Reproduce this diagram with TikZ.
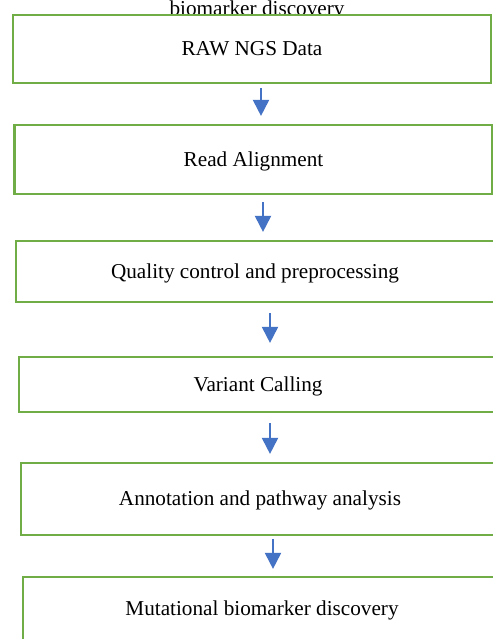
\documentclass[tikz,border=0pt]{standalone}
\usepackage{fontspec}
\setmainfont{Liberation Serif}
\usetikzlibrary{arrows.meta}

\definecolor{stepgreen}{HTML}{70AD47}
\definecolor{flowblue}{HTML}{4472C4}

\tikzset{
  stagebox/.style={draw=stepgreen, line width=1.1pt, fill=white, inner sep=0pt,
    minimum width=239pt, text depth=0.5pt, font=\fontsize{10.6}{12}\selectfont},
  flow/.style={flowblue, line width=1pt, -{Triangle[width=8pt,length=8pt]}}
}

\begin{document}
\begin{tikzpicture}[x=0.5pt, y=-0.5pt]

\clip (0,0) rectangle (493,639);
\fill[white] (0,0) rectangle (493,639);

\node (cut) at (257, 15.5) [anchor=base, font=\fontsize{10.6}{12}\selectfont] {biomarker discovery};

\node (raw) at (252, 49) [stagebox, minimum height=34pt] {RAW NGS Data};
\node (align) at (253.5, 159.5) [stagebox, minimum height=34.5pt] {Read Alignment};
\node (qc) at (255, 271.5) [stagebox, minimum height=30.5pt] {Quality control and preprocessing};
\node (calling) at (258, 384.5) [stagebox, minimum height=27.5pt] {Variant Calling};
\node (annot) at (260, 499) [stagebox, minimum height=36pt] {Annotation and pathway analysis};
\node (marker) at (262, 609) [stagebox, minimum height=32pt] {Mutational biomarker discovery};

\draw [flow, shorten <=2pt, shorten >=4pt] ([xshift=4.5pt]raw.south) -- ([xshift=3.75pt]align.north);
\draw [flow, shorten <=3.5pt, shorten >=4pt] ([xshift=4.75pt]align.south) -- ([xshift=4pt]qc.north);
\draw [flow, shorten <=5pt, shorten >=6.5pt] ([xshift=7.5pt]qc.south) -- ([xshift=6pt]calling.north);
\draw [flow, shorten <=5pt, shorten >=4pt] ([xshift=6pt]calling.south) -- ([xshift=5pt]annot.north);
\draw [flow, shorten <=1.5pt, shorten >=3.5pt] ([xshift=6.5pt]annot.south) -- ([xshift=5.5pt]marker.north);

\end{tikzpicture}
\end{document}
